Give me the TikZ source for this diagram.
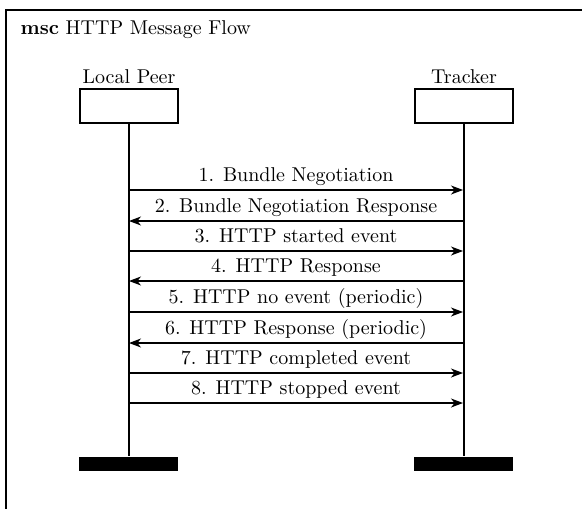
\documentclass[tikz,border=0pt]{standalone}
\usetikzlibrary{arrows.meta}
\begin{document}
\begin{tikzpicture}[x=0.5pt,y=-0.5pt,line width=0.6pt,
  instbox/.style={draw,minimum width=49pt,minimum height=17pt,inner sep=0pt},
  instname/.style={inner sep=0pt,font=\normalsize},
  endbar/.style={fill=black,minimum width=49.5pt,minimum height=7pt,inner sep=0pt},
  msg/.style={-{Stealth[length=6pt,width=4.5pt,inset=1.8pt]}},
  msglabel/.style={inner sep=0pt,font=\normalsize,anchor=base,yshift=4.2pt}]
\clip (0,0) rectangle (582,508);
\draw (6,10) rectangle (620,560);
\node[anchor=west,inner sep=0pt] (title) at (20,30) {\textbf{msc} HTTP Message Flow};
% instances
\node[instname] (lpname) at (129,77) {Local Peer};
\node[instname] (trname) at (464,77) {Tracker};
\node[instbox] (lp) at (129,106) {};
\node[instbox] (tr) at (464,106) {};
\node[endbar] (lpend) at (128.5,464) {};
\node[endbar] (trend) at (463.5,464) {};
\draw (lp.south) -- (lp.south |- lpend.north);
\draw (tr.south) -- (tr.south |- trend.north);
% message levels
\foreach \i/\y in {1/190,2/221,3/251,4/281,5/312,6/343,7/373,8/403}{
  \coordinate (L\i) at (129,\y);
  \coordinate (T\i) at (463,\y);
}
\draw[msg] (L1) -- (T1) node[msglabel,midway] {1. Bundle Negotiation};
\draw[msg] (T2) -- (L2) node[msglabel,midway] {2. Bundle Negotiation Response};
\draw[msg] (L3) -- (T3) node[msglabel,midway] {3. HTTP started event};
\draw[msg] (T4) -- (L4) node[msglabel,midway] {4. HTTP Response};
\draw[msg] (L5) -- (T5) node[msglabel,midway] {5. HTTP no event (periodic)};
\draw[msg] (T6) -- (L6) node[msglabel,midway] {6. HTTP Response (periodic)};
\draw[msg] (L7) -- (T7) node[msglabel,midway] {7. HTTP completed event};
\draw[msg] (L8) -- (T8) node[msglabel,midway] {8. HTTP stopped event};
\end{tikzpicture}
\end{document}
